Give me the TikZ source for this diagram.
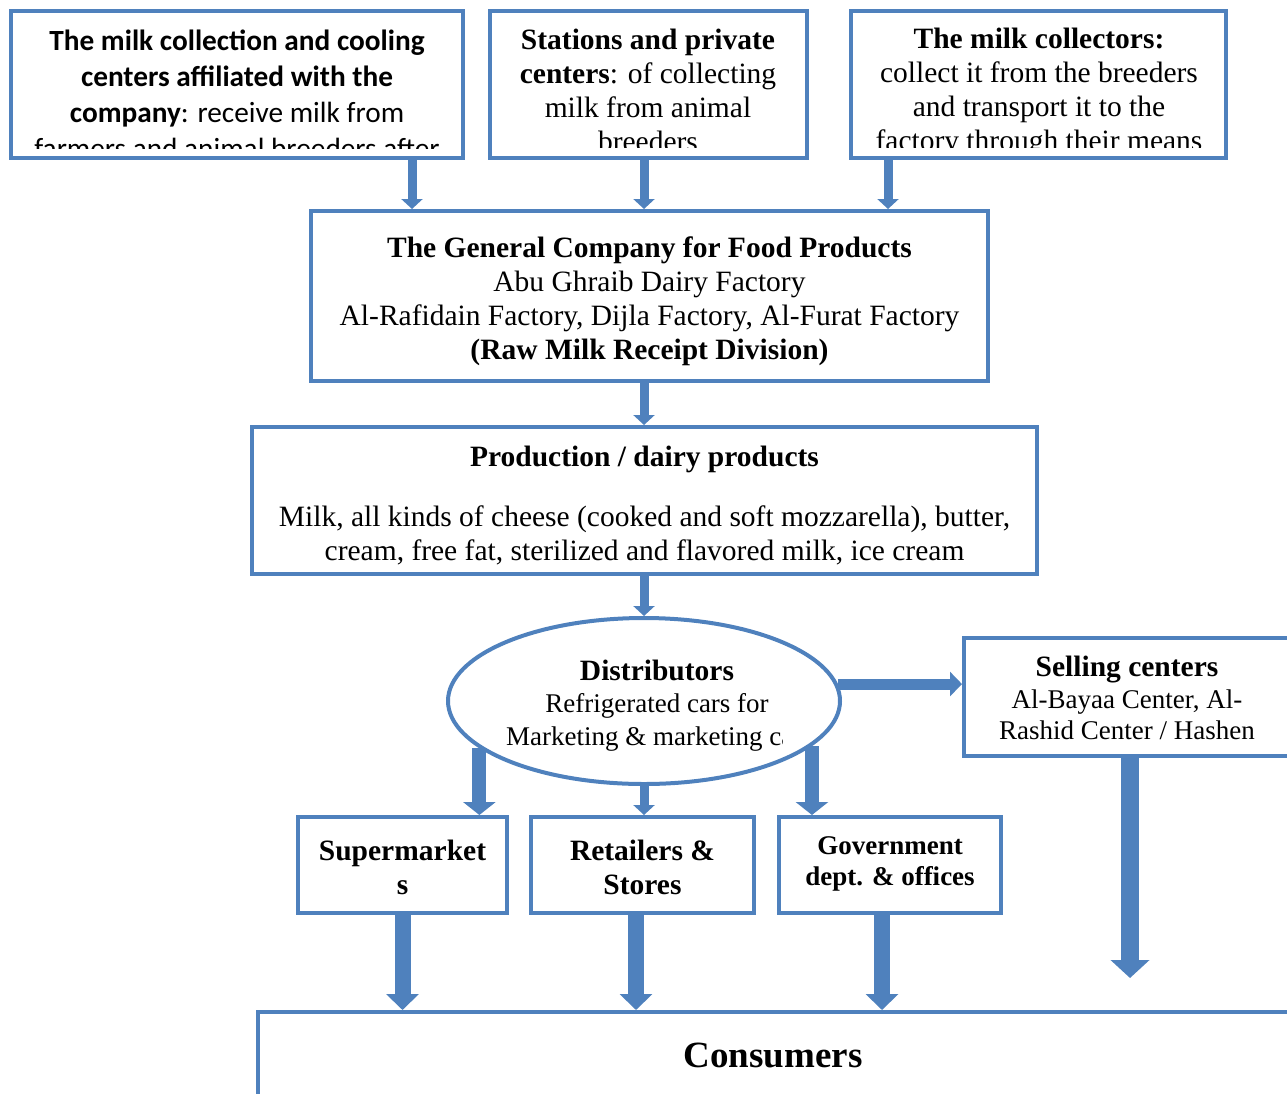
\documentclass[tikz,border=0pt]{standalone}
\usepackage{fontspec}
\setmainfont{Liberation Serif}
\newfontfamily\calibri{Carlito}
\usetikzlibrary{arrows.meta,shapes.geometric}
\definecolor{boxblue}{HTML}{4F81BD}
\newcommand{\bighead}[1]{{\fontsize{29.5}{31.5}\selectfont\textbf{#1}}}

\tikzset{
  frame/.style={draw=boxblue, line width=4pt, rectangle, inner sep=0pt},
  bigtext/.style={font=\fontsize{29.5}{34}\selectfont, align=center, inner sep=0pt},
  smalltext/.style={font=\fontsize{27}{31.5}\selectfont, align=center, inner sep=0pt},
  thinflow/.style={draw=boxblue, line width=9pt, -{Triangle[width=21pt,length=10pt]}},
  midflow/.style={draw=boxblue, line width=11pt, -{Triangle[width=24pt,length=12pt]}},
  fatflow/.style={draw=boxblue, line width=14pt, -{Triangle[width=32pt,length=13pt]}},
  bigflow/.style={draw=boxblue, line width=16pt, -{Triangle[width=32pt,length=16pt]}},
}

\begin{document}
\begin{tikzpicture}[x=1pt,y=-1pt]
\useasboundingbox (0,0) rectangle (1287,1093);
\clip (0,0) rectangle (1287,1093);

% ---------- where the milk comes from ----------
\begin{scope}
\clip (13,13) rectangle (461,148);
\node[font=\calibri\fontsize{29.3}{36}\selectfont, align=center, inner sep=0pt] (colA-txt) at (237,94)
  {\textbf{The milk collection and cooling}\\ \textbf{centers affiliated with the}\\
   \textbf{company}: receive milk from\\ farmers and animal breeders after};
\end{scope}
\node[frame, minimum width=452, minimum height=147] (colA) at (237,84.5) {};

\begin{scope}
\clip (492,13) rectangle (805,147);
\node[bigtext] (colB-txt) at (648,90)
  {\textbf{Stations and private}\\ \textbf{centers}: of collecting\\ milk from animal\\ breeders};
\end{scope}
\node[frame, minimum width=317, minimum height=147] (colB) at (648.5,84.5) {};

\begin{scope}
\clip (853,13) rectangle (1224,147);
\node[bigtext] (colC-txt) at (1039,92)
  {\textbf{The milk collectors:}\\ collect it from the breeders\\ and transport it to the\\ factory through their means};
\end{scope}
\node[frame, minimum width=375, minimum height=147] (colC) at (1038.5,84.5) {};

% ---------- factory ----------
\node[frame, minimum width=677, minimum height=170] (comp) at (649.5,296) {};
\node[bigtext] (comp-txt) at ([yshift=-5pt]comp.center)
  {\textbf{The General Company for Food Products}\\ Abu Ghraib Dairy Factory\\
   Al-Rafidain Factory, Dijla Factory, Al-Furat Factory\\ \textbf{(Raw Milk Receipt Division)}};

\coordinate (a1) at (412,0);
\coordinate (a2) at (644,0);
\coordinate (a3) at (888,0);
\draw[thinflow] (colA.south -| a1) -- (a1 |- comp.north);
\draw[thinflow] (colB.south -| a2) -- (a2 |- comp.north);
\draw[thinflow] (colC.south -| a3) -- (a3 |- comp.north);

% ---------- production ----------
\node[frame, minimum width=785, minimum height=147] (prod) at (644.5,500.5) {};
\node[bigtext] (prod-txt) at ([yshift=-5pt]prod.center)
  {\textbf{Production / dairy products}\\[26pt]
   Milk, all kinds of cheese (cooked and soft mozzarella), butter,\\
   cream, free fat, sterilized and flavored milk, ice cream};
\draw[thinflow] (comp.south -| a2) -- (a2 |- prod.north);

% ---------- distributors ----------
\node[ellipse, draw=boxblue, line width=4pt, inner sep=0pt, minimum width=392, minimum height=166] (dist) at (644,701) {};
\node[smalltext] (dist-txt) at (657,689) {\bighead{Distributors}\\ Refrigerated cars for};
\begin{scope}
\clip (440,715) rectangle (782,760);
\node[smalltext, anchor=west] (dist-txt2) at (506,739) {Marketing \& marketing cars};
\end{scope}
\draw[thinflow] (prod.south -| a2) -- (a2 |- dist.north);

\node[frame, minimum width=326, minimum height=118] (sell) at (1127,697) {};
\node[smalltext] (sell-txt) at ([yshift=-1pt]sell.center)
  {\bighead{Selling centers}\\ Al-Bayaa Center, Al-\\ Rashid Center / Hashen};
\draw[midflow] (dist.5) -- (dist.5 -| sell.west);

% ---------- outlets ----------
\node[frame, minimum width=209, minimum height=96] (sup) at (402.5,865) {};
\node[bigtext] (sup-txt) at ([yshift=-2pt]sup.center) {\textbf{Supermarket}\\ \textbf{s}};
\node[frame, minimum width=223, minimum height=96] (ret) at (642.5,865) {};
\node[bigtext] (ret-txt) at ([yshift=-2pt]ret.center) {\textbf{Retailers \&}\\ \textbf{Stores}};
\node[frame, minimum width=222, minimum height=96] (gov) at (890,865) {};
\node[smalltext] (gov-txt) at ([yshift=1pt]gov.center) {\textbf{Government}\\ \textbf{dept. \& offices}};

\draw[fatflow] (dist.196) -- (dist.196 |- sup.north);
\draw[thinflow] (dist.south) -- (dist.south |- ret.north);
\draw[fatflow] (dist.345) -- (dist.345 |- gov.north);

% ---------- consumers ----------
\node[frame, minimum width=1032, minimum height=88] (cons) at (774,1056) {};
\node[font=\fontsize{37}{44}\selectfont, inner sep=0pt] (cons-txt) at (773,1055) {\textbf{Consumers}};

\coordinate (b2) at (636,0);
\coordinate (b3) at (882,0);
\coordinate (s1) at (1130,978);
\draw[bigflow] (sup.south) -- (sup.south |- cons.north);
\draw[bigflow] (ret.south -| b2) -- (b2 |- cons.north);
\draw[bigflow] (gov.south -| b3) -- (b3 |- cons.north);
\draw[bigflow, line width=18pt, -{Triangle[width=38pt,length=18pt]}] (sell.south -| s1) -- (s1);

\end{tikzpicture}
\end{document}
